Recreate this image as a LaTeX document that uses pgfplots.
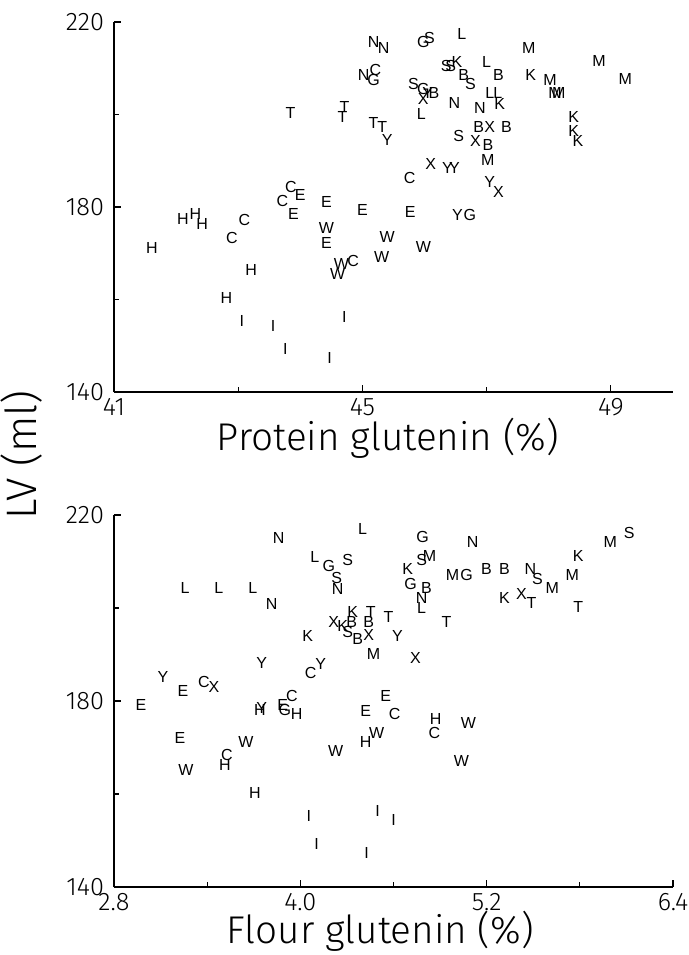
\documentclass[border=0pt]{standalone}
\usepackage{pgfplots}
\usepackage{pgfplotstable}
\pgfplotsset{compat=1.18}
\usepackage{fontspec}
\setmainfont{Liberation Sans}
\newfontfamily\thinsans{Fira Sans}[UprightFont={* Light}]

% Loaf volume against glutenin content; each point is labelled by cultivar code
\pgfplotstableread{
x y l
45.18 215.7 N
45.34 214.4 N
45.02 208.5 N
45.18 207.5 G
45.21 209.6 C
43.84 200.3 T
44.71 201.6 T
44.68 199.5 T
45.18 198.2 T
45.32 197.3 T
45.40 194.5 Y
43.85 184.3 C
44.00 182.6 E
43.71 181.3 C
44.42 181.1 E
45.00 179.4 E
45.98 215.7 G
46.08 216.5 S
46.60 217.4 L
47.68 214.4 M
46.35 210.5 S
46.42 210.5 S
46.52 211.4 K
47.00 211.4 L
46.63 208.5 B
46.74 206.6 S
47.19 208.5 B
47.71 208.5 K
48.02 207.5 M
48.81 211.6 M
49.23 207.7 M
48.10 204.6 M
48.16 204.6 M
45.82 206.6 S
45.98 205.5 G
46.05 204.6 Y
46.15 204.6 B
45.98 203.4 X
45.95 200.1 L
46.48 202.5 N
46.89 201.4 N
47.05 204.6 L
47.18 204.6 L
47.21 202.3 K
48.40 199.5 K
48.40 196.4 K
48.47 194.3 K
46.87 197.3 B
47.05 197.3 X
47.32 197.3 B
46.55 195.4 S
46.82 194.3 X
47.02 193.4 B
47.02 190.2 M
46.10 189.3 X
46.37 188.4 Y
46.48 188.4 Y
45.76 186.3 C
47.05 185.4 Y
47.19 183.2 X
45.77 179.0 E
46.53 178.3 Y
46.73 178.3 G
45.40 173.5 W
45.98 171.4 W
45.31 169.2 W
42.11 177.4 H
42.31 178.5 H
42.42 176.3 H
41.61 171.1 H
43.10 177.2 C
42.90 173.3 C
43.89 178.5 E
44.42 175.5 W
44.42 172.2 E
44.66 167.7 W
44.60 165.5 W
44.85 168.3 C
43.21 166.4 H
42.81 160.3 H
43.06 155.4 I
43.56 154.3 I
43.76 149.3 I
44.47 147.4 I
44.71 156.2 I
}\proteintable

\pgfplotstableread{
x y l
3.861 215.0 N
4.401 217.0 L
4.093 211.0 L
4.183 209.0 G
4.305 210.3 S
4.234 206.5 S
4.240 204.1 N
3.257 204.3 L
3.475 204.3 L
3.694 204.3 L
3.816 200.9 N
4.337 199.1 K
4.453 199.1 T
4.568 198.1 T
4.215 197.0 X
4.273 196.1 K
4.331 197.0 B
4.305 194.8 S
4.369 193.3 B
4.440 197.0 B
4.440 194.2 X
4.626 194.0 Y
4.048 194.0 K
4.472 190.1 M
3.752 188.2 Y
4.067 186.0 C
4.131 188.0 Y
3.115 185.2 Y
3.244 182.2 E
3.379 184.1 C
3.443 183.0 X
4.710 205.2 G
4.813 204.3 B
4.781 202.2 N
4.781 200.0 L
4.742 189.2 X
4.941 197.0 T
4.787 215.3 G
5.109 214.2 N
4.781 210.3 S
4.832 211.2 M
4.691 208.4 K
4.980 207.1 M
5.070 207.1 G
5.199 208.4 B
5.314 208.4 B
5.482 208.4 N
5.527 206.2 S
5.314 202.2 K
5.424 203.0 X
5.488 201.1 T
5.623 204.3 M
5.752 207.1 M
5.790 211.2 K
5.996 214.2 M
6.118 216.1 S
5.790 200.2 T
2.974 179.1 E
3.739 178.1 H
3.752 178.5 Y
3.887 179.1 E
3.900 178.1 G
3.945 181.1 C
3.977 177.2 H
4.421 177.8 E
4.549 181.1 E
4.607 177.2 C
3.224 172.0 E
3.649 171.2 W
3.527 168.4 C
3.514 166.2 H
3.263 165.2 W
4.228 169.2 W
4.421 171.2 H
4.491 173.1 W
3.707 160.2 H
4.054 155.3 I
4.105 149.2 I
4.498 156.3 I
4.601 154.4 I
4.427 147.3 I
4.871 176.1 H
4.864 173.1 C
5.083 175.3 W
5.038 167.1 W
}\flourtable

\pgfplotsset{
  lvpanel/.style={
    scale only axis,
    width=419.25pt,
    anchor=south west,
    axis lines=left,
    axis line style={-, line width=1pt},
    tick align=inside,
    major tick length=5.5pt,
    minor tick length=3.5pt,
    every tick/.style={black, line width=0.9pt},
    ymin=140, ymax=220,
    ytick={140,180,220},
    minor ytick={160,200},
    /pgf/number format/assume math mode=true,
    ticklabel style={font=\thinsans\fontsize{19}{19}\selectfont},
    yticklabel style={xshift=-4pt},
    xticklabel style={yshift=-1pt},
    xlabel style={font=\thinsans\fontsize{29}{31}\selectfont, anchor=center},
    clip=false,
  },
  codes/.style={
    only marks, mark=none,
    point meta=explicit symbolic,
    nodes near coords,
    nodes near coords align=center,
    every node near coord/.append style={
      font=\fontsize{12}{12}\selectfont, inner sep=0pt, text=black},
  },
}

\begin{document}
\begin{tikzpicture}
\path[use as bounding box] (0,0) rectangle (516pt,-716.25pt);

\begin{axis}[lvpanel,
  at={(85.5pt,-294pt)}, height=277.5pt,
  xmin=41, xmax=50,
  xtick={41,45,49}, minor xtick={43,47},
  xlabel={Protein glutenin (\%)},
  xlabel style={at={(axis description cs:0.49,-0.124)}},
]
\addplot[codes] table[x=x, y=y, meta=l] {\proteintable};
\end{axis}

\begin{axis}[lvpanel,
  at={(85.5pt,-665.25pt)}, height=279pt,
  xmin=2.8, xmax=6.4,
  xtick={2.8,4.0,5.2,6.4}, minor xtick={3.4,4.6,5.8},
  xticklabel style={/pgf/number format/.cd, fixed, fixed zerofill, precision=1},
  xlabel={Flour glutenin (\%)},
  xlabel style={at={(axis description cs:0.476,-0.118)}},
]
\addplot[codes] table[x=x, y=y, meta=l] {\flourtable};
\end{axis}

\node[rotate=90, font=\thinsans\fontsize{32}{34}\selectfont] at (16.5pt,-341.25pt) {LV (ml)};
\end{tikzpicture}
\end{document}
